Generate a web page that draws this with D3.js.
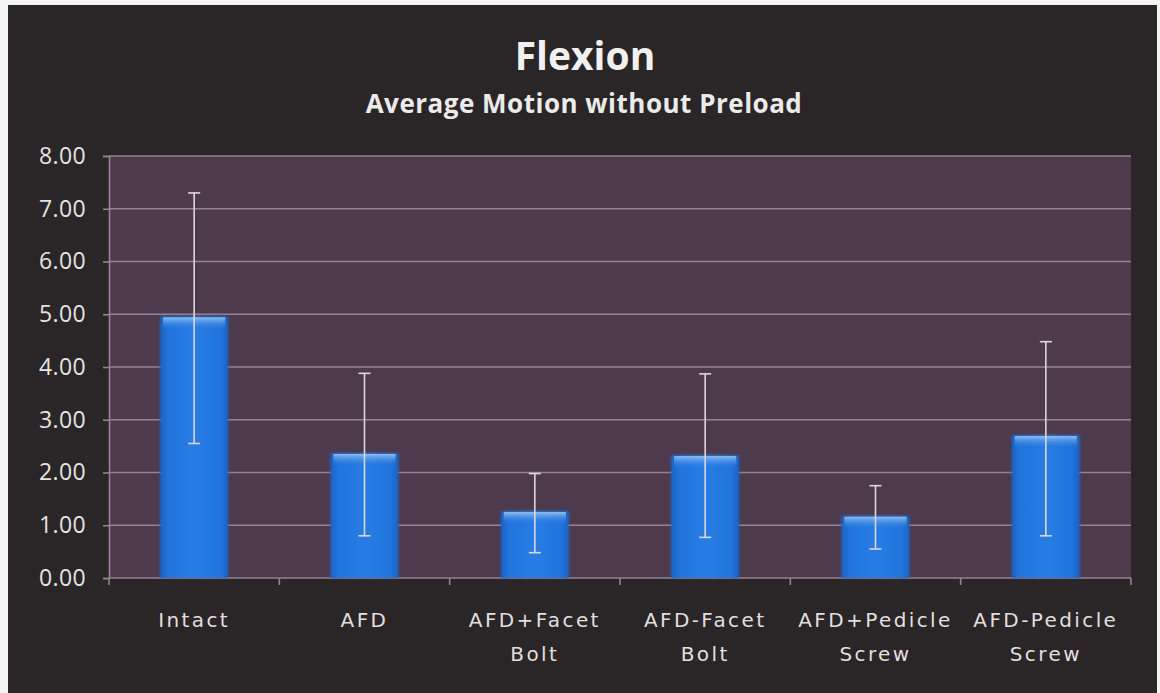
<!DOCTYPE html>
<html>
<head>
<meta charset="utf-8">
<script src="https://cdn.jsdelivr.net/npm/d3@7"></script>
<style>
  html, body { margin: 0; padding: 0; background: #f4f4f2; }
  svg { display: block; }
</style>
</head>
<body>
<svg id="chart" width="1160" height="693"></svg>
<script>
// Flexion – average motion without preload, mean with error range
const categories = [["Intact"], ["AFD"], ["AFD+Facet", "Bolt"], ["AFD-Facet", "Bolt"], ["AFD+Pedicle", "Screw"], ["AFD-Pedicle", "Screw"]];
const means = [4.96, 2.37, 1.27, 2.33, 1.18, 2.71];
const errHigh = [7.30, 3.88, 1.98, 3.87, 1.75, 4.48];
const errLow = [2.55, 0.80, 0.48, 0.77, 0.55, 0.80];
const yTicks = [0, 1, 2, 3, 4, 5, 6, 7, 8];

const svg = d3.select("#chart");
const W = 1160, H = 693;
const plot = { left: 109, right: 1131, top: 156, bottom: 578 };

// frame
svg.append("rect").attr("x", 8).attr("y", 5).attr("width", 1149).attr("height", H - 5)
  .attr("fill", "#2a2526");

// plot area
svg.append("rect").attr("x", plot.left).attr("y", plot.top)
  .attr("width", plot.right - plot.left).attr("height", plot.bottom - plot.top)
  .attr("fill", "#4e3a4d");

const keys = categories.map((c, i) => i);
const x = d3.scaleBand().domain(keys).range([plot.left, plot.right]).paddingInner(0.6).paddingOuter(0.3);
const xOuter = d3.scaleBand().domain(keys).range([plot.left, plot.right]);
const y = d3.scaleLinear().domain([0, 8]).range([plot.bottom, plot.top]);

// gridlines
svg.append("g").selectAll("line").data(yTicks.filter(t => t > 0)).join("line")
  .attr("x1", plot.left).attr("x2", plot.right)
  .attr("y1", d => y(d)).attr("y2", d => y(d))
  .attr("stroke", "#938393").attr("stroke-width", 1.6);

// y axis
const yAxis = svg.append("g").attr("transform", `translate(${plot.left},0)`)
  .call(d3.axisLeft(y).tickValues(yTicks).tickFormat(d3.format(".2f")).tickSize(6).tickPadding(17));
yAxis.select(".domain").attr("stroke", "#938393").attr("stroke-width", 1.6);
yAxis.selectAll(".tick line").attr("stroke", "#938393").attr("stroke-width", 1.6);
yAxis.selectAll("text").attr("fill", "#e6e3e3").attr("font-family", "'Open Sans', sans-serif")
  .attr("font-size", 23).attr("font-weight", 500).attr("letter-spacing", 0.4);

// x axis baseline and tick marks between categories
const xBase = svg.append("g").attr("transform", `translate(0,${plot.bottom})`);
xBase.append("line").attr("x1", plot.left).attr("x2", plot.right)
  .attr("stroke", "#938393").attr("stroke-width", 1.6);
const boundaries = keys.map(k => xOuter(k)).concat([plot.right]);
xBase.selectAll("line.tk").data(boundaries).join("line").attr("class", "tk")
  .attr("x1", d => d).attr("x2", d => d).attr("y1", 0).attr("y2", 7)
  .attr("stroke", "#938393").attr("stroke-width", 1.6);

// bar gradients
const defs = svg.append("defs");
const g1 = defs.append("linearGradient").attr("id", "barH").attr("x1", 0).attr("x2", 1).attr("y1", 0).attr("y2", 0);
g1.append("stop").attr("offset", "0%").attr("stop-color", "#1b63c6");
g1.append("stop").attr("offset", "12%").attr("stop-color", "#2174dc");
g1.append("stop").attr("offset", "50%").attr("stop-color", "#287de4");
g1.append("stop").attr("offset", "88%").attr("stop-color", "#2174dc");
g1.append("stop").attr("offset", "100%").attr("stop-color", "#1b63c6");
const g2 = defs.append("linearGradient").attr("id", "barTop").attr("x1", 0).attr("x2", 0).attr("y1", 0).attr("y2", 1);
g2.append("stop").attr("offset", "0%").attr("stop-color", "#9cc6f4").attr("stop-opacity", 0.9);
g2.append("stop").attr("offset", "100%").attr("stop-color", "#2a7be0").attr("stop-opacity", 0);
defs.append("filter").attr("id", "glow").append("feGaussianBlur").attr("stdDeviation", 1.2);

const bars = svg.append("g");
bars.selectAll("rect.bar").data(means).join("rect").attr("class", "bar")
  .attr("x", (d, i) => x(i)).attr("width", x.bandwidth())
  .attr("y", d => y(d)).attr("height", d => y(0) - y(d))
  .attr("fill", "url(#barH)").attr("filter", "url(#glow)");
bars.selectAll("rect.hl").data(means).join("rect").attr("class", "hl")
  .attr("x", (d, i) => x(i) + 3).attr("width", x.bandwidth() - 6)
  .attr("y", d => y(d) + 1).attr("height", 12)
  .attr("fill", "url(#barTop)");

// error bars
const eb = svg.append("g").attr("stroke", "#dcd6dc").attr("stroke-width", 1.6);
keys.forEach(i => {
  const cx = x(i) + x.bandwidth() / 2;
  eb.append("line").attr("x1", cx).attr("x2", cx).attr("y1", y(errHigh[i])).attr("y2", y(errLow[i]));
  eb.append("line").attr("x1", cx - 6).attr("x2", cx + 6).attr("y1", y(errHigh[i])).attr("y2", y(errHigh[i]));
  eb.append("line").attr("x1", cx - 6).attr("x2", cx + 6).attr("y1", y(errLow[i])).attr("y2", y(errLow[i]));
});

// category labels
const lbl = svg.append("g").attr("fill", "#e2dfe0").attr("font-family", "'DejaVu Sans', sans-serif")
  .attr("font-size", 20).attr("letter-spacing", 2.4).attr("text-anchor", "middle");
keys.forEach(i => {
  const t = lbl.append("text").attr("x", xOuter(i) + xOuter.bandwidth() / 2).attr("y", 627);
  categories[i].forEach((line, j) => {
    t.append("tspan").attr("x", xOuter(i) + xOuter.bandwidth() / 2).attr("dy", j === 0 ? 0 : 34).text(line);
  });
});

// titles
svg.append("text").attr("x", 585).attr("y", 70).attr("text-anchor", "middle")
  .attr("fill", "#f2f0f0").attr("font-family", "'Open Sans', sans-serif")
  .attr("font-size", 39).attr("font-weight", 700).text("Flexion");
svg.append("text").attr("x", 584).attr("y", 113).attr("text-anchor", "middle")
  .attr("fill", "#ecebeb").attr("font-family", "'Open Sans', sans-serif")
  .attr("font-size", 26).attr("font-weight", 700).attr("letter-spacing", 0.5)
  .text("Average Motion without Preload");
</script>
</body>
</html>
